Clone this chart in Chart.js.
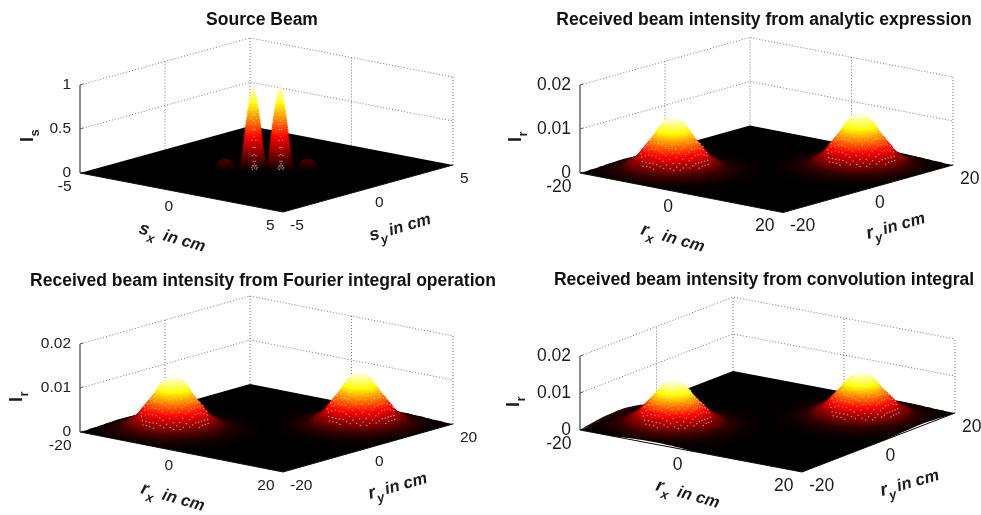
<!DOCTYPE html>
<html>
<head>
<meta charset="utf-8">
<script src="https://cdn.jsdelivr.net/npm/chart.js"></script>
<style>
html, body { margin: 0; padding: 0; background: #fff; width: 981px; height: 515px; overflow: hidden; }
canvas { position: absolute; filter: blur(0.35px); }
</style>
</head>
<body>
<script>
// values
const sourceTicks = [-5, 0, 5];
const receivedTicks = [-20, 0, 20];
const sourceTicksZ = [0, 0.5, 1];
const receivedTicksZ = [0, 0.01, 0.02];

// each lobe is a stack of height levels: level height and its radius in cm
const sourceLevelZ = [.005, .01, .02, .035, .05, .07, .09, .105, .12, .135, .15, .165, .18, .195, .21, .225, .24, .255, .27, .285, .30, .315, .33, .35, .37, .39, .41, .43, .45, .47, .49, .51, .53, .55, .57, .59, .61, .63, .65, .67, .69, .71, .73, .75, .77, .79, .81, .83, .85, .87, .89, .91, .93, .945, .96, .98, 1];
const sourceLevelR = [.75, .68, .62, .57, .54, .50, .48, .47, .46, .45, .44, .435, .43, .42, .415, .41, .40, .395, .39, .38, .375, .37, .365, .36, .355, .348, .34, .332, .325, .318, .31, .30, .29, .283, .275, .265, .255, .248, .24, .23, .22, .21, .20, .19, .18, .17, .16, .148, .135, .122, .11, .098, .085, .072, .06, .04, .02];
const sideLevelZ = [.006, .02, .035, .05, .065, .08, .09, .10, .11];
const sideLevelR = [.45, .42, .40, .37, .34, .30, .25, .18, .08];
const receivedLevelZ = [1e-4, 2e-4, 3e-4, 4e-4, 5e-4, 6e-4, 8e-4, 10e-4, 12e-4, 15e-4, 18e-4, 21e-4, 24e-4, 27e-4, 30e-4, 33e-4, 36e-4, 40e-4, 44e-4, 48e-4, 52e-4, 56e-4, 60e-4, 64e-4, 68e-4, 72e-4, 76e-4, 80e-4, 84e-4, 88e-4, 92e-4, 96e-4, 100e-4, 104e-4, 108e-4, 112e-4, 116e-4, 120e-4, 123e-4];
const receivedLevelR = [13, 11.5, 10.8, 10.1, 9.5, 9.2, 8.6, 8, 7.7, 7.4, 7.1, 6.8, 6.4, 6.0, 5.8, 5.6, 5.4, 5.2, 5.0, 4.8, 4.6, 4.35, 4.15, 3.95, 3.7, 3.5, 3.3, 3.1, 2.9, 2.75, 2.55, 2.4, 2.2, 2.0, 1.75, 1.45, 1.1, .7, .3];

// lobe centres
const sourceMainCentres = [[-0.39, -0.32], [0.39, 0.32]];
const sourceSideCentres = [[-1.2, -1.0], [1.2, 1.0]];
const receivedCentres = [[-10, -10], [10, 10]];

// convolution panel edge ripple
const humpRy = [-20, -17, -14, -11, -8, -5, -2];
const humpZ = [0, .0006, .0011, .0013, .0012, .0007, 0];
const rimLeftRx = [-14, -11, -8, -5, -2, 0];
const rimLeftZ = [0, .0003, .0005, .0005, .0003, 0];
const rimRightRy = [2, 7, 11, 15, 19];
const rimRightZ = [0, .0003, .0005, .0003, 0];

const FONT = '"Liberation Sans", Arial, sans-serif';
const CW = 528;
const GRID_COLOR = '#777';
const DISC_POINTS = 48;

function hot(t) {
    t = Math.max(0, Math.min(1, t));
    const r = Math.min(1, t / 0.375);
    const g = Math.max(0, Math.min(1, (t - 0.375) / 0.375));
    const b = Math.max(0, (t - 0.75) / 0.25);
    return `rgb(${Math.round(r * 255)},${Math.round(g * 255)},${Math.round(b * 255)})`;
}

function makeProjector(p) {
    const [lo, hi] = [p.ticks[0], p.ticks[p.ticks.length - 1]];
    const top = p.ticksZ[p.ticksZ.length - 1];
    return (x, y, z) => {
        // surface stops at the axis limits
        const fx = (Math.max(lo, Math.min(hi, x)) - lo) / (hi - lo);
        const fy = (Math.max(lo, Math.min(hi, y)) - lo) / (hi - lo);
        return {
            x: p.left[0] + fx * (p.front[0] - p.left[0]) + fy * (p.right[0] - p.front[0]),
            y: p.left[1] + fx * (p.front[1] - p.left[1]) + fy * (p.right[1] - p.front[1]) - (z || 0) / top * p.zPx
        };
    };
}

function strokeSet(data, color, width, dash) {
    return {
        data: data, showLine: true, pointRadius: 0, fill: false, tension: 0,
        borderColor: color, borderWidth: width, borderDash: dash || [], clip: false
    };
}

function fillSet(data, color, tension) {
    return {
        data: data, showLine: true, pointRadius: 0, fill: 'shape', tension: tension || 0,
        borderWidth: 0, borderColor: 'rgba(0,0,0,0)', backgroundColor: color, clip: false
    };
}

function lobeSets(p, project, lobe, centre) {
    const sets = [];
    lobe.z.forEach((z, k) => {
        const pts = [];
        for (let a = 0; a < DISC_POINTS; a++) {
            const t = a / DISC_POINTS * 2 * Math.PI;
            pts.push(project(centre[0] + lobe.r[k] * Math.cos(t), centre[1] + lobe.r[k] * Math.sin(t), z));
        }
        sets.push(fillSet(pts, hot(z / p.peak)));
    });
    if (lobe.dotStep) {
        // mesh nodes show through on the slope facing the viewer
        const s = lobe.dotStep, dots = [];
        for (let i = -16; i <= 16; i++) {
            for (let j = -16; j <= 16; j++) {
                const dx = i * s, dy = j * s, r = Math.hypot(dx, dy);
                if (dx - dy < lobe.dotFront || Math.abs(dx + dy) > lobe.dotBand) continue;
                if (r > lobe.dotMax || r < lobe.dotMin) continue;
                const k = lobe.r.findIndex(v => v <= r);
                if (k < 0) continue;
                dots.push(project(centre[0] + dx, centre[1] + dy, lobe.z[k]));
            }
        }
        sets.push({
            data: dots, showLine: false, pointRadius: 0.75, pointBorderWidth: 0,
            pointBackgroundColor: 'rgba(255,215,205,0.62)', clip: false
        });
    }
    return sets;
}

function buildDatasets(p) {
    const project = makeProjector(p);
    const lo = p.ticks[0], hi = p.ticks[2], mid = p.ticks[1];
    const topZ = p.ticksZ[2];
    const sets = [];
    // walls
    p.ticksZ.slice(1).forEach(z => {
        sets.push(strokeSet([project(lo, lo, z), project(lo, hi, z), project(hi, hi, z)], GRID_COLOR, 1, [1, 2]));
    });
    [[lo, mid], [lo, hi], [mid, hi], [hi, hi]].forEach(c => {
        sets.push(strokeSet([project(c[0], c[1], 0), project(c[0], c[1], topZ)], GRID_COLOR, 1, [1, 2]));
    });
    // vertical axis with ticks
    sets.push(strokeSet([project(lo, lo, 0), project(lo, lo, topZ)], '#666', 1.5));
    p.ticksZ.forEach(z => {
        const a = project(lo, lo, z);
        sets.push(strokeSet([a, { x: a.x + 3, y: a.y - 1 }], '#666', 1));
    });
    // floor
    sets.push(fillSet([project(lo, lo, 0), project(hi, lo, 0), project(hi, hi, 0), project(lo, hi, 0)], '#000'));
    if (p.hump) {
        sets.push(fillSet(humpRy.map((y, i) => project(lo, y, humpZ[i])), '#2a0505', 0.3));
    }
    p.lobes.forEach(l => {
        l.centres.forEach(c => {
            lobeSets(p, project, l, c).forEach(s => sets.push(s));
        });
    });
    if (p.hump) {
        const left = rimLeftRx.map((x, i) => project(x, lo, rimLeftZ[i]));
        const right = rimRightRy.map((y, i) => project(hi, y, rimRightZ[i]));
        sets.push(fillSet(left, '#fff', 0.3));
        sets.push(fillSet(right, '#fff', 0.3));
    }
    sets.push(strokeSet([project(lo, lo, 0), project(hi, lo, 0), project(hi, hi, 0)], '#111', 1));
    // first dataset is drawn last, so hand them over front to back
    return sets.reverse();
}

const textPlugin = {
    id: 'axisText',
    afterDraw(chart, args, opts) {
        const p = opts.panel;
        const project = makeProjector(p);
        const ctx = chart.ctx;
        const px = v => chart.scales.x.getPixelForValue(v);
        const py = v => chart.scales.y.getPixelForValue(v);
        const lo = p.ticks[0], hi = p.ticks[2];
        ctx.save();
        ctx.fillStyle = '#1c1c1c';
        ctx.textBaseline = 'middle';
        ctx.font = p.tickSize + 'px ' + FONT;
        ctx.textAlign = 'right';
        p.ticksZ.forEach(z => {
            const a = project(lo, lo, z);
            ctx.fillText(String(z), px(a.x - 9), py(a.y));
        });
        p.ticks.forEach(t => {
            const a = project(t, lo, 0);
            ctx.fillText(String(t), px(a.x - 8.5), py(a.y + 14));
        });
        ctx.textAlign = 'left';
        p.ticks.forEach(t => {
            const a = project(hi, t, 0);
            ctx.fillText(String(t), px(a.x + 7), py(a.y + 14));
        });
        drawAxisLabel(ctx, px(p.labelX[0]), py(p.labelX[1]), 16, p.letter, 'x', 'in cm', 8);
        drawAxisLabel(ctx, px(p.labelY[0]), py(p.labelY[1]), -16, p.letter, 'y', 'in cm', 3);
        ctx.save();
        ctx.translate(px(p.labelZ[0]), py(p.labelZ[1]));
        ctx.rotate(-Math.PI / 2);
        ctx.textBaseline = 'alphabetic';
        ctx.font = 'bold 18px ' + FONT;
        ctx.fillText('I', 0, 0);
        ctx.font = 'bold 13px ' + FONT;
        ctx.fillText(p.subZ, 5.5, 6);
        ctx.restore();
        ctx.restore();
    }
};

function drawAxisLabel(ctx, x, y, deg, main, sub, rest, gap) {
    ctx.save();
    ctx.translate(x, y);
    ctx.rotate(deg * Math.PI / 180);
    ctx.textBaseline = 'alphabetic';
    ctx.textAlign = 'left';
    ctx.font = 'italic bold 18px ' + FONT;
    ctx.fillText(main, 0, 0);
    let at = ctx.measureText(main).width;
    ctx.font = 'italic bold 13px ' + FONT;
    ctx.fillText(sub, at, 6);
    at += ctx.measureText(sub).width + gap;
    ctx.font = 'italic bold 16.5px ' + FONT;
    ctx.fillText(rest, at, 0);
    ctx.restore();
}

const receivedLobes = [{
    z: receivedLevelZ, r: receivedLevelR, centres: receivedCentres,
    dotStep: 0.7, dotFront: 0.5, dotBand: 7, dotMax: 6.5, dotMin: 1.5
}];

const panels = [
    {
        title: 'Source Beam', centre: 262, top: 0, height: 260, pad: 10,
        left: [80, 173], front: [283, 212], right: [453, 165], zPx: 88,
        ticks: sourceTicks, ticksZ: sourceTicksZ, tickSize: 15.5, peak: 1,
        lobes: [
            { z: sideLevelZ, r: sideLevelR, centres: sourceSideCentres },
            {
                z: sourceLevelZ, r: sourceLevelR, centres: sourceMainCentres,
                dotStep: 0.05, dotFront: 0.1, dotBand: 0.15, dotMax: 0.6, dotMin: 0.15
            }
        ],
        letter: 's', subZ: 's', labelX: [138, 233], labelY: [371, 241], labelZ: [33, 142]
    },
    {
        title: 'Received beam intensity from analytic expression', centre: 764, top: 0, height: 260, pad: 10,
        left: [580, 173], front: [783, 212.5], right: [953, 165], zPx: 88,
        ticks: receivedTicks, ticksZ: receivedTicksZ, tickSize: 17.5, peak: 0.0123,
        lobes: receivedLobes,
        letter: 'r', subZ: 'r', labelX: [640, 234], labelY: [868, 239], labelZ: [521, 142]
    },
    {
        title: 'Received beam intensity from Fourier integral operation', centre: 263, top: 261, height: 254, pad: 10,
        left: [80, 432], front: [283, 472], right: [453, 424], zPx: 88,
        ticks: receivedTicks, ticksZ: receivedTicksZ, tickSize: 15.5, peak: 0.0123,
        lobes: receivedLobes,
        letter: 'r', subZ: 'r', labelX: [140, 493], labelY: [370, 499], labelZ: [22, 402]
    },
    {
        title: 'Received beam intensity from convolution integral', centre: 764, top: 260, height: 255, pad: 10,
        left: [580, 430], front: [802, 472], right: [955, 413], zPx: 74,
        ticks: receivedTicks, ticksZ: receivedTicksZ, tickSize: 17.5, peak: 0.0123, hump: true,
        lobes: receivedLobes,
        letter: 'r', subZ: 'r', labelX: [655, 490], labelY: [882, 496], labelZ: [519, 407]
    }
];

panels.forEach(p => {
    const canvas = document.createElement('canvas');
    const leftEdge = p.centre - CW / 2;
    canvas.width = CW;
    canvas.height = p.height;
    canvas.style.left = leftEdge + 'px';
    canvas.style.top = p.top + 'px';
    document.body.appendChild(canvas);
    const titleBlock = 30;
    new Chart(canvas.getContext('2d'), {
        type: 'scatter',
        data: { datasets: buildDatasets(p) },
        options: {
            responsive: false,
            animation: false,
            events: [],
            layout: { padding: 0, autoPadding: false },
            scales: {
                x: { type: 'linear', display: false, min: leftEdge, max: leftEdge + CW },
                y: { type: 'linear', display: false, reverse: true, min: p.top + titleBlock, max: p.top + p.height }
            },
            plugins: {
                legend: { display: false },
                tooltip: { enabled: false },
                title: {
                    display: true, text: p.title, color: '#111',
                    font: { family: FONT, size: 17.5, weight: 'bold', lineHeight: '20px' },
                    padding: { top: p.pad, bottom: titleBlock - 20 - p.pad }
                },
                axisText: { panel: p }
            }
        },
        plugins: [textPlugin]
    });
});
</script>
</body>
</html>
